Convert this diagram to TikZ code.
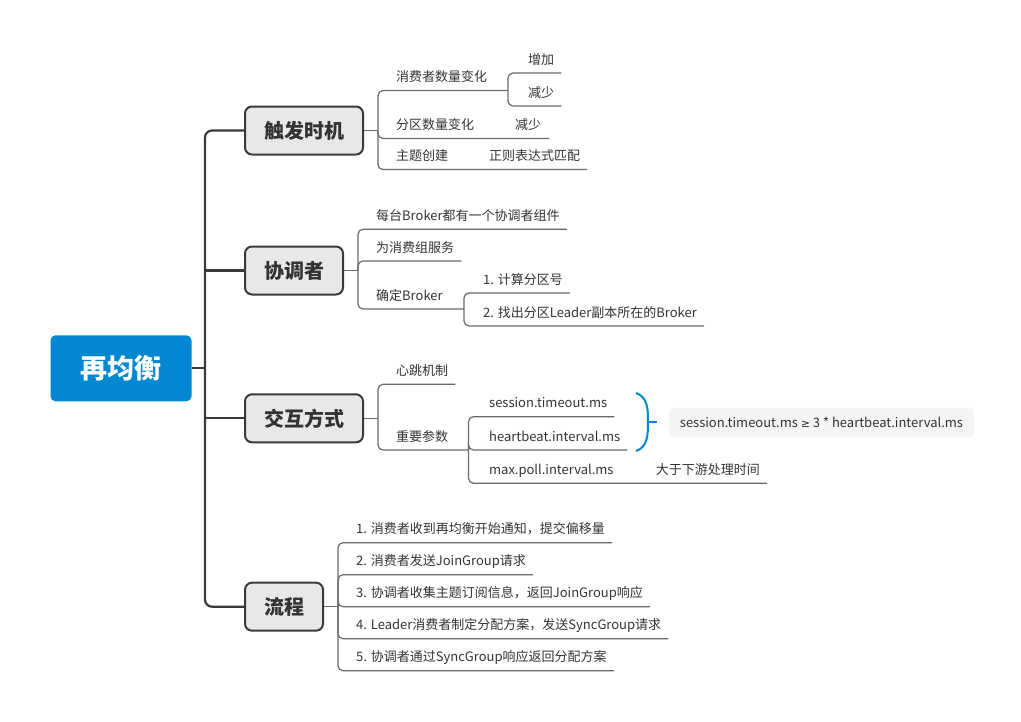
\documentclass[tikz,border=0pt]{standalone}
\usepackage{fontspec}
\setmainfont{Noto Sans CJK SC}
\newfontfamily\symfont{DejaVu Sans}
\usetikzlibrary{positioning}

\definecolor{rootblue}{HTML}{0288D1}
\definecolor{topicgray}{HTML}{E8E8E8}
\definecolor{linedark}{HTML}{3A3A3A}
\definecolor{linegray}{HTML}{6A6A6A}
\definecolor{textdark}{HTML}{333333}
\definecolor{notegray}{HTML}{F4F4F4}

\tikzset{
  root/.style={rounded corners=5pt, fill=rootblue, text=white, font=\bfseries\fontsize{27}{30}\selectfont, minimum width=141pt, minimum height=66pt},
  topic/.style={rounded corners=7pt, draw=linedark, line width=2pt, fill=topicgray, text=textdark, font=\bfseries\fontsize{20}{24}\selectfont, minimum height=48pt, inner xsep=0pt, anchor=west},
  leaf/.style={anchor=base west, inner sep=0pt, text=textdark, font=\fontsize{13}{15}\selectfont},
  trunk/.style={draw=linedark, line width=2.2pt, rounded corners=7pt},
  link/.style={draw=linegray, line width=1.2pt, rounded corners=5pt},
  brace/.style={draw=rootblue, line width=2pt},
  note/.style={fill=notegray, rounded corners=5pt, minimum width=305pt, minimum height=30pt, text=textdark, font=\fontsize{13}{15}\selectfont}
}

\begin{document}
\begin{tikzpicture}[x=1pt, y=-1pt]
\useasboundingbox (0,0) rectangle (1021,721);

% root and main topics
\node[root] (root) at (121,368.3) {再均衡};
\node[topic, minimum width=118pt] (trig) at (244,130.5) {触发时机};
\node[topic, minimum width=98pt] (coord) at (244,270.5) {协调者};
\node[topic, minimum width=118pt] (inter) at (244,418.3) {交互方式};
\node[topic, minimum width=78pt] (flow) at (244,606.7) {流程};

% trunk
\coordinate (hub) at (205,368.3);
\draw[trunk] (root.east) -- (hub);
\draw[trunk] (trig.west) -| (hub) |- (flow.west);
\draw[trunk] (coord.west) -- (coord.west -| hub);
\draw[trunk] (inter.west) -- (inter.west -| hub);

% 触发时机
\coordinate (trigj) at ([xshift=14pt]trig.east);
\draw[link] (trig.east) -- (trigj);
\node[leaf] (cnum) at (396,81.5) {消费者数量变化};
\node[leaf] (pnum) at (396,129.5) {分区数量变化};
\node[leaf] (tnew) at (396,160.5) {主题创建};
\coordinate (cnumj) at (508,90.5);
\draw[link] (trigj) |- (cnumj);
\node[leaf] (cinc) at (528,64) {增加};
\node[leaf] (cdec) at (528,97) {减少};
\draw[link] (cnumj) |- ([shift={(7,9)}]cinc.base east);
\draw[link] (cnumj) |- ([shift={(7,9)}]cdec.base east);
\node[leaf] (pdec) at (515,129.5) {减少};
\draw[link] (trigj) |- ([shift={(8,9)}]pdec.base east);
\node[leaf] (tre) at (489,160.5) {正则表达式匹配};
\draw[link] (trigj) |- ([shift={(7,9)}]tre.base east);

% 协调者
\coordinate (coordj) at ([xshift=14pt]coord.east);
\draw[link] (coord.east) -- (coordj);
\node[leaf] (cb1) at (376,220.3) {每台Broker都有一个协调者组件};
\node[leaf] (cb2) at (376,252) {为消费组服务};
\node[leaf] (cb3) at (376,300) {确定Broker};
\draw[link] (coordj) |- ([shift={(7,9)}]cb1.base east);
\draw[link] (coordj) |- ([shift={(7,9)}]cb2.base east);
\coordinate (cb3j) at (464,309);
\draw[link] (coordj) |- (cb3j);
\node[leaf] (cs1) at (483,284) {1. 计算分区号};
\node[leaf] (cs2) at (483,317) {2. 找出分区Leader副本所在的Broker};
\draw[link] (cb3j) |- ([shift={(7,9)}]cs1.base east);
\draw[link] (cb3j) |- ([shift={(7,9)}]cs2.base east);

% 交互方式
\coordinate (interj) at ([xshift=14pt]inter.east);
\draw[link] (inter.east) -- (interj);
\node[leaf] (hb) at (396,375.3) {心跳机制};
\node[leaf] (par) at (396,441) {重要参数};
\draw[link] (interj) |- ([shift={(7,9)}]hb.base east);
\coordinate (parj) at (468.5,450);
\draw[link] (interj) |- (parj);
\node[leaf] (ps1) at (489,407.7) {session.timeout.ms};
\node[leaf] (ps2) at (489,441) {heartbeat.interval.ms};
\node[leaf] (ps3) at (489,474.3) {max.poll.interval.ms};
\draw[link] (parj) |- ([shift={(7,9)}]ps1.base east);
\draw[link] (parj) |- ([shift={(7,9)}]ps2.base east);
\node[leaf] (ps3a) at (655.6,474.3) {大于下游处理时间};
\draw[link] (parj) |- ([shift={(7,9)}]ps3a.base east);

% summary brace
\coordinate (bt) at (636,393);
\coordinate (bm) at (648,422);
\coordinate (bb) at (636,451);
\draw[brace] (bt) .. controls (648,397) and (648,410) .. (bm) .. controls (648,434) and (648,447) .. (bb);
\node[note] (sum) at (821.5,422.5) {session.timeout.ms {\symfont\fontsize{11}{13}\selectfont ≥} 3 * heartbeat.interval.ms};
\draw[brace] (bm) -- ++(9,0);

% 流程
\coordinate (flowj) at ([xshift=14pt]flow.east);
\draw[link] (flow.east) -- (flowj);
\node[leaf] (f1) at (356,533.7) {1. 消费者收到再均衡开始通知，提交偏移量};
\node[leaf] (f2) at (356,565.7) {2. 消费者发送JoinGroup请求};
\node[leaf] (f3) at (356,597.7) {3. 协调者收集主题订阅信息，返回JoinGroup响应};
\node[leaf] (f4) at (356,629.7) {4. Leader消费者制定分配方案，发送SyncGroup请求};
\node[leaf] (f5) at (356,661.7) {5. 协调者通过SyncGroup响应返回分配方案};
\foreach \f in {f1,f2,f3,f4,f5}
  \draw[link] (flowj) |- ([shift={(7,9)}]\f.base east);
\end{tikzpicture}
\end{document}
